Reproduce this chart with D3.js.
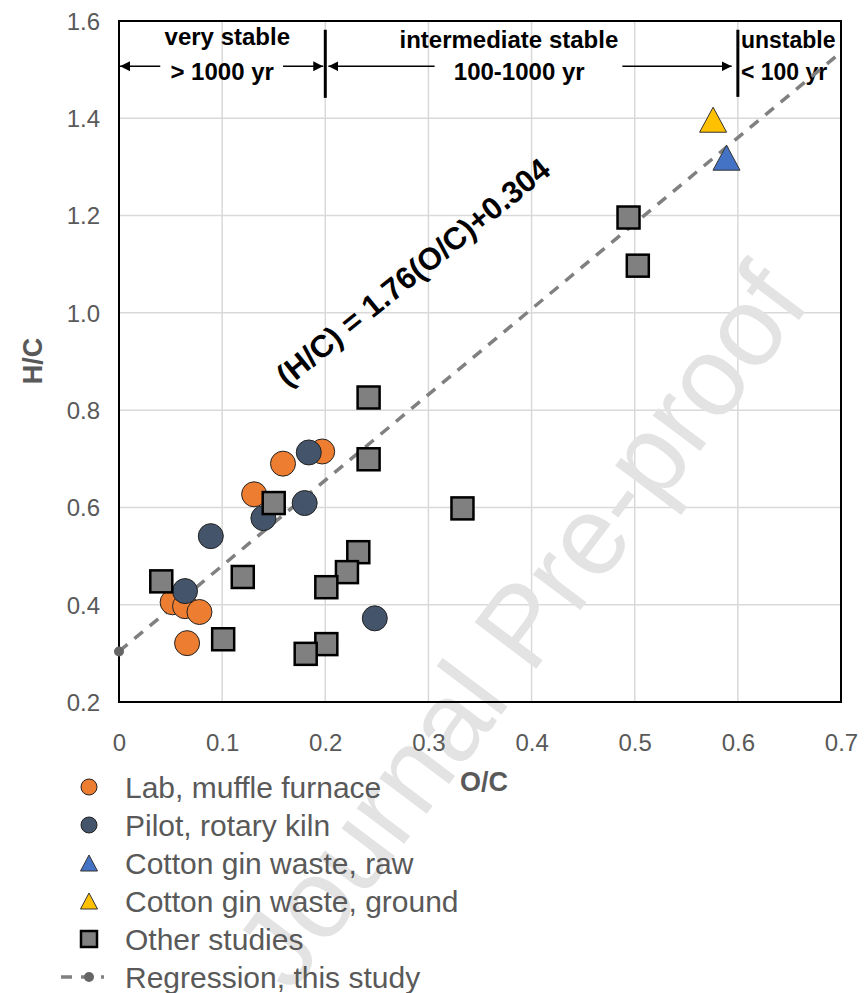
<!DOCTYPE html>
<html>
<head>
<meta charset="utf-8">
<script src="https://cdn.jsdelivr.net/npm/d3@7/dist/d3.min.js"></script>
<style>
  body { margin: 0; background: #fff; }
  text { font-family: "Liberation Sans", Arial, sans-serif; }
</style>
</head>
<body>
<svg width="866" height="993"></svg>
<script>
// data
var labOC   = [0.197, 0.159, 0.131, 0.052, 0.064, 0.078, 0.066];
var labHC   = [0.715, 0.690, 0.627, 0.405, 0.397, 0.385, 0.321];
var pilotOC = [0.184, 0.180, 0.140, 0.089, 0.064, 0.248];
var pilotHC = [0.713, 0.609, 0.578, 0.541, 0.428, 0.372];
var rawOC = [0.589], rawHC = [1.318];
var groundOC = [0.576], groundHC = [1.396];
var otherOC = [0.242, 0.242, 0.333, 0.232, 0.221, 0.201, 0.201, 0.181, 0.150, 0.120, 0.101, 0.041, 0.494, 0.503];
var otherHC = [0.826, 0.699, 0.598, 0.508, 0.467, 0.436, 0.319, 0.299, 0.609, 0.457, 0.329, 0.448, 1.196, 1.097];
var regOC = [0, 0.7], regHC = [0.304, 1.536];
var xTicks = [0, 0.1, 0.2, 0.3, 0.4, 0.5, 0.6, 0.7];
var yTicks = [0.2, 0.4, 0.6, 0.8, 1.0, 1.2, 1.4, 1.6];
var legendNames = ["Lab, muffle furnace", "Pilot, rotary kiln", "Cotton gin waste, raw",
                   "Cotton gin waste, ground", "Other studies", "Regression, this study"];

function zip(a, b) { return a.map(function(v, i) { return [v, b[i]]; }); }

var svg = d3.select("svg");
var pL = 119, pR = 841, pT = 21, pB = 702;

var x = d3.scaleLinear().domain([0, 0.7]).range([pL, pR]);
var y = d3.scaleLinear().domain([0.2, 1.6]).range([pB, pT]);

var defs = svg.append("defs");
defs.append("marker").attr("id", "arr")
    .attr("viewBox", "0 0 10 10").attr("refX", 10).attr("refY", 5)
    .attr("markerWidth", 10).attr("markerHeight", 10).attr("markerUnits", "userSpaceOnUse")
    .attr("orient", "auto")
  .append("path").attr("d", "M0,0L10,5L0,10Z").attr("fill", "#000");

// grid
svg.append("g").selectAll("line").data(xTicks.slice(1, -1)).enter().append("line")
    .attr("x1", d => x(d)).attr("x2", d => x(d)).attr("y1", pT).attr("y2", pB)
    .attr("stroke", "#d9d9d9").attr("stroke-width", 1.5);
svg.append("g").selectAll("line").data(yTicks.slice(1, -1)).enter().append("line")
    .attr("y1", d => y(d)).attr("y2", d => y(d)).attr("x1", pL).attr("x2", pR)
    .attr("stroke", "#d9d9d9").attr("stroke-width", 1.5);

// watermark (sits under the marks)
svg.append("text").attr("transform", "translate(520,625) rotate(-53)").attr("text-anchor", "middle")
    .attr("dy", "0.35em").attr("font-size", 112).attr("fill", "#e3e3e3")
    .text("Journal Pre-proof");

// axes labels
var xAxis = d3.axisBottom(x).tickValues(xTicks).tickSize(0).tickPadding(0)
    .tickFormat(d => d === 0 ? "0" : d3.format(".1f")(d));
var gX = svg.append("g").attr("transform", "translate(0," + pB + ")").call(xAxis);
gX.select(".domain").remove();
gX.selectAll("text").attr("dy", null).attr("y", 49).attr("font-size", 24)
    .attr("fill", "#595959").attr("font-family", "Liberation Sans, Arial, sans-serif");

var yAxis = d3.axisLeft(y).tickValues(yTicks).tickSize(0).tickPadding(0)
    .tickFormat(d3.format(".1f"));
var gY = svg.append("g").attr("transform", "translate(" + pL + ",0)").call(yAxis);
gY.select(".domain").remove();
gY.selectAll("text").attr("x", -19).attr("dy", "0.35em").attr("font-size", 24)
    .attr("fill", "#595959").attr("font-family", "Liberation Sans, Arial, sans-serif");

// plot frame
svg.append("rect").attr("x", pL).attr("y", pT).attr("width", pR - pL).attr("height", pB - pT)
    .attr("fill", "none").attr("stroke", "#000").attr("stroke-width", 2);

svg.append("text").attr("x", 484).attr("y", 791).attr("text-anchor", "middle")
    .attr("font-size", 27).attr("font-weight", "bold").attr("fill", "#595959").text("O/C");
svg.append("text").attr("transform", "translate(42,361) rotate(-90)").attr("text-anchor", "middle")
    .attr("font-size", 27).attr("font-weight", "bold").attr("fill", "#595959").text("H/C");

// stability zones
var zy = 1.507;
[[0.2, 1.582, 1.442], [0.6, 1.582, 1.444]].forEach(function(v) {
  svg.append("line").attr("x1", x(v[0])).attr("x2", x(v[0])).attr("y1", y(v[1])).attr("y2", y(v[2]))
      .attr("stroke", "#000").attr("stroke-width", 3);
});
[[0.040, 0.001], [0.159, 0.198], [0.306, 0.203], [0.488, 0.594]].forEach(function(a) {
  svg.append("line").attr("x1", x(a[0])).attr("x2", x(a[1])).attr("y1", y(zy)).attr("y2", y(zy))
      .attr("stroke", "#000").attr("stroke-width", 1.3).attr("marker-end", "url(#arr)");
});
var zoneText = [
  ["very stable", x(0.105), 45, "middle", 24], ["> 1000 yr", x(0.100), 80, "middle", 24],
  ["intermediate stable", x(0.378), 48, "middle", 24], ["100-1000 yr", x(0.388), 80, "middle", 24],
  ["unstable", x(0.603), 48, "start", 23], ["< 100 yr", x(0.603), 80, "start", 23]
];
zoneText.forEach(function(t) {
  svg.append("text").attr("x", t[1]).attr("y", t[2]).attr("text-anchor", t[3])
      .attr("font-size", t[4]).attr("font-weight", "bold").attr("fill", "#000").text(t[0]);
});

// regression
svg.append("path").datum(zip(regOC, regHC))
    .attr("d", d3.line().x(d => x(d[0])).y(d => y(d[1])))
    .attr("fill", "none").attr("stroke", "#808080").attr("stroke-width", 3.5).attr("stroke-dasharray", "11,9");
svg.append("circle").attr("cx", x(regOC[0])).attr("cy", y(regHC[0])).attr("r", 5).attr("fill", "#666");

svg.append("text").attr("transform", "translate(413,272) rotate(-39)").attr("text-anchor", "middle")
    .attr("dy", "0.35em").attr("font-size", 31).attr("font-weight", "bold").attr("fill", "#000")
    .text("(H/C) = 1.76(O/C)+0.304");

// points
function circles(xs, ys, fill) {
  svg.append("g").selectAll("circle").data(zip(xs, ys)).enter().append("circle")
      .attr("cx", d => x(d[0])).attr("cy", d => y(d[1])).attr("r", 12.5)
      .attr("fill", fill).attr("stroke", "#222").attr("stroke-width", 1);
}
circles(labOC, labHC, "#ED7D31");
circles(pilotOC, pilotHC, "#44546A");

svg.append("g").selectAll("rect").data(zip(otherOC, otherHC)).enter().append("rect")
    .attr("x", d => x(d[0]) - 11).attr("y", d => y(d[1]) - 11).attr("width", 22).attr("height", 22)
    .attr("fill", "#808080").attr("stroke", "#000").attr("stroke-width", 2.5);

function triangles(xs, ys, fill) {
  svg.append("g").selectAll("path").data(zip(xs, ys)).enter().append("path")
      .attr("d", "M0,-13L13.5,12L-13.5,12Z")
      .attr("transform", d => "translate(" + x(d[0]) + "," + y(d[1]) + ")")
      .attr("fill", fill).attr("stroke", "#333").attr("stroke-width", 1);
}
triangles(rawOC, rawHC, "#4472C4");
triangles(groundOC, groundHC, "#FFC000");

// legend
var lg = svg.append("g");
var ly = d3.scaleLinear().domain([0, 5]).range([787, 977]);
legendNames.forEach(function(name, i) {
  var cy = ly(i);
  if (i === 0 || i === 1) {
    lg.append("circle").attr("cx", 89).attr("cy", cy).attr("r", 8)
        .attr("fill", i === 0 ? "#ED7D31" : "#44546A").attr("stroke", "#222").attr("stroke-width", 1);
  } else if (i === 2 || i === 3) {
    lg.append("path").attr("d", "M0,-8L8.5,8L-8.5,8Z").attr("transform", "translate(89," + cy + ")")
        .attr("fill", i === 2 ? "#4472C4" : "#FFC000").attr("stroke", "#333").attr("stroke-width", 1);
  } else if (i === 4) {
    lg.append("rect").attr("x", 81).attr("y", cy - 8).attr("width", 16).attr("height", 16)
        .attr("fill", "#808080").attr("stroke", "#000").attr("stroke-width", 2.5);
  } else {
    lg.append("line").attr("x1", 61).attr("x2", 104).attr("y1", cy).attr("y2", cy)
        .attr("stroke", "#808080").attr("stroke-width", 3.5).attr("stroke-dasharray", "11,9");
    lg.append("circle").attr("cx", 89).attr("cy", cy).attr("r", 5).attr("fill", "#666");
  }
  lg.append("text").attr("x", 125).attr("y", cy).attr("dy", "0.35em")
      .attr("font-size", 30).attr("fill", "#595959").text(name);
});
</script>
</body>
</html>
